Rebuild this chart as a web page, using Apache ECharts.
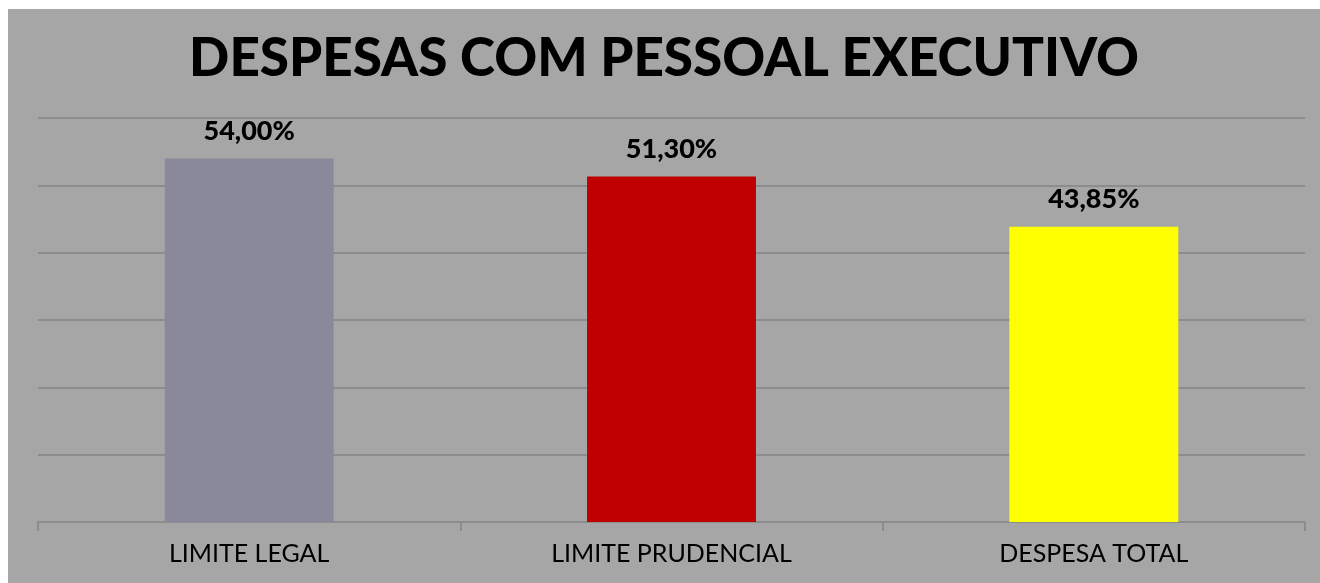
<!DOCTYPE html>
<html>
<head>
<meta charset="utf-8">
<script src="https://cdn.jsdelivr.net/npm/echarts@6/dist/echarts.min.js"></script>
<style>
  html, body { margin: 0; padding: 0; background: #ffffff; }
  #main { position: absolute; left: 8px; top: 9px; width: 1312px; height: 574px; background: #a6a6a6; }
</style>
</head>
<body>
<div id="main"></div>
<script>
// dados do grafico
var categorias = ['LIMITE LEGAL', 'LIMITE PRUDENCIAL', 'DESPESA TOTAL'];
var valores = [54.00, 51.30, 43.85];
var cores = ['#8a899b', '#c00000', '#ffff00'];

var myChart = echarts.init(document.getElementById('main'));
var option = {
  backgroundColor: '#a6a6a6',
  title: {
    text: 'DESPESAS COM PESSOAL EXECUTIVO',
    left: 'center',
    top: 18,
    textStyle: {
      fontFamily: 'Lato',
      fontWeight: 900,
      fontSize: 53,
      color: '#000000'
    }
  },
  grid: {
    left: 30,
    right: 15,
    top: 109,
    bottom: 61
  },
  xAxis: {
    type: 'category',
    data: categorias,
    axisLine: { lineStyle: { color: '#8c8c8c', width: 2 } },
    axisTick: { show: true, length: 9, lineStyle: { color: '#8c8c8c', width: 2 } },
    axisLabel: {
      color: '#000000',
      fontFamily: 'Lato',
      fontSize: 25,
      margin: 19
    }
  },
  yAxis: {
    type: 'value',
    min: 0,
    max: 60,
    interval: 10,
    axisLabel: { show: false },
    axisLine: { show: false },
    axisTick: { show: false },
    splitLine: { lineStyle: { color: '#8c8c8c', width: 2 } }
  },
  series: [
    {
      type: 'bar',
      barWidth: '40%',
      data: valores.map(function (v, i) {
        return { value: v, itemStyle: { color: cores[i] } };
      }),
      label: {
        show: true,
        position: 'top',
        distance: 14,
        color: '#000000',
        fontFamily: 'Lato',
        fontWeight: 900,
        fontSize: 27,
        formatter: function (p) {
          return p.value.toFixed(2).replace('.', ',') + '%';
        }
      }
    }
  ]
};
myChart.setOption(option);
</script>
</body>
</html>
